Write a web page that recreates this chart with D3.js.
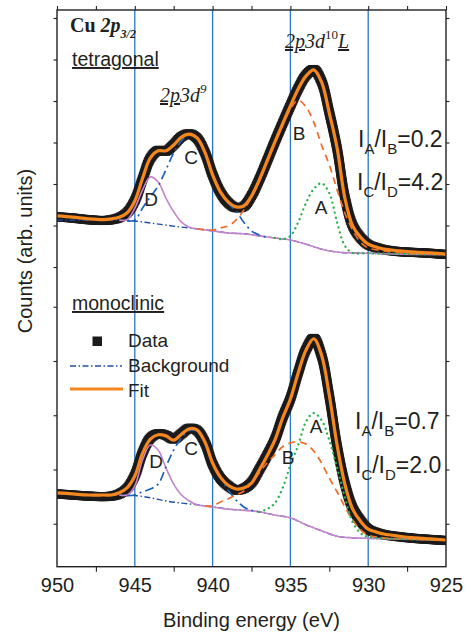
<!DOCTYPE html>
<html><head><meta charset="utf-8">
<script src="https://cdn.jsdelivr.net/npm/d3@7"></script>
<style>body{margin:0;background:#fff}svg{display:block}</style>
</head><body><svg id="c" width="471" height="634"></svg>
<script>
// ---------- data (binding energy in eV, counts in arbitrary units) ----------
const energies = [950,949,948,947,946.5,946,945.5,945,944.5,944,943.5,943,942.5,942,941.5,941,940.5,940,939.5,939,938.5,938,937.5,937,936.5,936,935.5,935,934.5,934,933.5,933,932.5,932,931.5,931,930.5,930,929.5,929,928,927,926,925];
// tetragonal (upper spectrum)
const dataTop = [2.21,2.18,2.14,2.12,2.14,2.19,2.31,2.60,3.12,3.62,3.81,3.79,3.95,4.14,4.21,4.10,3.76,3.22,2.80,2.55,2.43,2.46,2.72,3.11,3.56,4.02,4.46,4.89,5.30,5.62,5.76,5.47,4.72,3.85,2.68,2.00,1.71,1.54,1.47,1.42,1.37,1.35,1.33,1.30];
const fitTop  = [2.23,2.20,2.16,2.14,2.16,2.20,2.30,2.59,3.14,3.63,3.80,3.80,3.94,4.13,4.20,4.11,3.77,3.22,2.81,2.57,2.45,2.47,2.71,3.10,3.55,4.01,4.45,4.88,5.29,5.60,5.75,5.46,4.71,3.87,2.66,1.99,1.72,1.55,1.48,1.43,1.39,1.36,1.34,1.31];
// monoclinic (lower spectrum)
const dataBottom = [1.55,1.53,1.51,1.50,1.51,1.55,1.65,1.89,2.31,2.58,2.66,2.63,2.56,2.66,2.76,2.72,2.50,2.10,1.84,1.70,1.62,1.65,1.76,2.00,2.26,2.55,2.96,3.31,3.79,4.21,4.42,4.10,3.35,2.43,1.74,1.29,1.06,0.90,0.84,0.80,0.76,0.73,0.71,0.69];
const fitBottom  = [1.57,1.55,1.53,1.53,1.53,1.57,1.66,1.88,2.30,2.56,2.64,2.62,2.54,2.65,2.75,2.73,2.51,2.12,1.86,1.71,1.64,1.66,1.75,1.99,2.25,2.54,2.95,3.30,3.78,4.20,4.41,4.11,3.37,2.45,1.73,1.27,1.05,0.90,0.85,0.81,0.77,0.74,0.72,0.70];

// Shirley backgrounds
const bgEnergies = [950,948,946,945,944,943,942,941,940,939,938,937,936,935,934,933,932,931,930,928,925];
const bgTop    = [2.13,2.13,2.13,2.11,2.06,2.01,1.96,1.92,1.87,1.82,1.80,1.75,1.70,1.65,1.55,1.43,1.36,1.34,1.33,1.31,1.30];
const bgBottom = [1.55,1.54,1.53,1.52,1.48,1.42,1.38,1.35,1.31,1.27,1.25,1.22,1.16,1.11,0.98,0.87,0.77,0.74,0.73,0.72,0.70];

// fitted components (drawn on top of background)
const compDEnergies = [946,945.5,945,944.5,944,943.5,943,942.5,942,941.5,941,940,939,938,937,936,935,934,933,932,931,930,928,925];
const compDTop    = [2.13,2.14,2.42,2.86,3.17,3.05,2.66,2.33,2.08,1.96,1.92,1.87,1.82,1.80,1.75,1.70,1.65,1.55,1.43,1.36,1.34,1.33,1.31,1.30];
const compDBottom = [1.53,1.53,1.70,2.18,2.45,2.36,2.03,1.73,1.53,1.42,1.35,1.31,1.27,1.25,1.22,1.16,1.11,0.98,0.87,0.77,0.74,0.73,0.72,0.70];

const compCEnergiesTop = [945.5,945,944.5,944,943.5,943,942.5,942,941.5,941,940.5,940,939.5,939,938.5,938,937.5,937,936.5];
const compCTop = [2.11,2.13,2.42,2.69,2.95,3.34,3.75,4.04,4.18,4.11,3.77,3.24,2.81,2.54,2.35,2.08,1.87,1.77,1.72];
const compCEnergiesBottom = [945.5,945,944.5,944,943.5,943,942.5,942,941.5,941,940.5,940,939.5,939,938.5,938,937.5,937];
const compCBottom = [1.52,1.53,1.59,1.64,1.73,2.05,2.36,2.58,2.72,2.71,2.49,2.12,1.86,1.62,1.44,1.31,1.25,1.22];

const compBEnergiesTop = [941,940,939.5,939,938.5,938,937.5,937,936.5,936,935.5,935,934.5,934,933.5,933,932.5,932,931.5,931,930.5,930,929,928,925];
const compBTop = [1.92,1.89,1.94,1.99,2.13,2.37,2.69,3.07,3.53,3.99,4.42,4.81,5.02,4.86,4.49,3.94,3.46,2.86,2.30,1.89,1.60,1.46,1.39,1.34,1.30];
const compBEnergiesBottom = [940.5,940,939.5,939,938.5,938,937.5,937,936.5,936,935.5,935,934.5,934,933.5,933,932.5,932,931.5,931,930.5,930,929,928,925];
const compBBottom = [1.33,1.33,1.40,1.46,1.53,1.60,1.75,1.94,2.12,2.27,2.42,2.49,2.51,2.47,2.34,2.12,1.84,1.59,1.31,1.07,0.89,0.79,0.74,0.72,0.70];

const compAEnergiesTop = [936,935.5,935,934.5,934,933.5,933,932.5,932,931.5,931,930,925];
const compATop = [1.70,1.67,1.75,2.08,2.54,2.88,3.02,2.78,2.08,1.51,1.34,1.33,1.30];
const compAEnergiesBottom = [937,936.5,936,935.5,935,934.5,934,933.5,933,932.5,932,931.5,931,930.5,930,929,925];
const compABottom = [1.22,1.27,1.38,1.66,2.08,2.45,2.88,3.04,2.91,2.54,2.03,1.49,1.03,0.83,0.76,0.73,0.70];

const majorTicks = [950,945,940,935,930,925];
const minorTicks = [947.5,942.5,937.5,932.5,927.5];
const guideEnergies = [945,940,935,930];
const ticksTop = [1,2,3,4,5,6,7];
const ticksBottom = [1,2,3,4,5];

// ---------- drawing ----------
const svg = d3.select('#c');
const L = 57, R = 446, T = 10, B = 566.7;
const x = d3.scaleLinear().domain([950,925]).range([L,R]);
const yTop = d3.scaleLinear().domain([0,7]).range([308.5,18]);
const yBot = d3.scaleLinear().domain([0,5]).range([578,306.75]);
const curve = d3.curveCatmullRom.alpha(0.5);
const pathFor = (E, V, y) => d3.line().x((d,i)=>x(E[i])).y(d=>y(d)).curve(curve)(V);

const TXT = '#231f20';
const SANS = '"Liberation Sans", Arial, Helvetica, sans-serif';
const SERIF = '"Liberation Serif", "Times New Roman", serif';

svg.append('defs').append('clipPath').attr('id','clip')
  .append('rect').attr('x',L).attr('y',T).attr('width',R-L).attr('height',B-T);

const plot = svg.append('g').attr('clip-path','url(#clip)');

// guide lines
plot.selectAll('line.guide').data(guideEnergies).join('line')
  .attr('x1',d=>x(d)).attr('x2',d=>x(d)).attr('y1',T).attr('y2',B)
  .attr('stroke','#2a76c6').attr('stroke-width',1.3);

// data as dense squares along the measured curve
function drawData(V, y) {
  const p = plot.append('path').attr('d', pathFor(energies, V, y)).attr('fill','none').attr('stroke','none');
  const node = p.node(); const len = node.getTotalLength();
  const pts = d3.range(0, len, 1.6).map(l => node.getPointAtLength(l));
  const s = 9;
  plot.append('g').selectAll('rect').data(pts).join('rect')
    .attr('x', d=>d.x - s/2).attr('y', d=>d.y - s/2).attr('width', s).attr('height', s)
    .attr('fill', '#1c1a1a');
}
drawData(dataTop, yTop);
drawData(dataBottom, yBot);

const styles = {
  bg: {stroke:'#1f4fa6', w:1.4, dash:'6,2.5,1.5,2.5'},
  D:  {stroke:'#c584cc', w:1.6, dash:null},
  C:  {stroke:'#1b63b8', w:1.7, dash:'9,4,2,4'},
  B:  {stroke:'#f26b2a', w:1.7, dash:'7,5'},
  A:  {stroke:'#2bb24c', w:2.3, dash:'0.1,5', cap:'round'},
  fit:{stroke:'#f5871f', w:3.2, dash:null}
};
function drawLine(E, V, y, st) {
  const p = plot.append('path').attr('d', pathFor(E, V, y)).attr('fill','none')
    .attr('stroke', st.stroke).attr('stroke-width', st.w);
  if (st.dash) p.attr('stroke-dasharray', st.dash);
  if (st.cap) p.attr('stroke-linecap', st.cap);
}
// upper
drawLine(bgEnergies, bgTop, yTop, styles.bg);
drawLine(compDEnergies, compDTop, yTop, styles.D);
drawLine(compCEnergiesTop, compCTop, yTop, styles.C);
drawLine(compBEnergiesTop, compBTop, yTop, styles.B);
drawLine(compAEnergiesTop, compATop, yTop, styles.A);
drawLine(energies, fitTop, yTop, styles.fit);
// lower
drawLine(bgEnergies, bgBottom, yBot, styles.bg);
drawLine(compDEnergies, compDBottom, yBot, styles.D);
drawLine(compCEnergiesBottom, compCBottom, yBot, styles.C);
drawLine(compBEnergiesBottom, compBBottom, yBot, styles.B);
drawLine(compAEnergiesBottom, compABottom, yBot, styles.A);
drawLine(energies, fitBottom, yBot, styles.fit);

// axes
function styleAxis(g){ g.select('.domain').remove(); g.selectAll('.tick line').attr('stroke','#222').attr('stroke-width',1.1); }
svg.append('g').attr('transform',`translate(0,${T})`)
  .call(d3.axisTop(x).tickValues(majorTicks.concat(minorTicks)).tickSize(4).tickFormat('')).call(styleAxis);
svg.append('g').attr('transform',`translate(0,${B})`)
  .call(d3.axisBottom(x).tickValues(minorTicks).tickSize(5).tickFormat('')).call(styleAxis);
const xl = svg.append('g').attr('transform',`translate(0,${B})`)
  .call(d3.axisBottom(x).tickValues(majorTicks).tickSize(0).tickPadding(11).tickFormat(d3.format('d'))).call(styleAxis);
xl.selectAll('text').attr('font-size',20).attr('font-family',SANS).attr('fill',TXT);
[[d3.axisLeft, L],[d3.axisRight, R]].forEach(([ax, pos]) => {
  svg.append('g').attr('transform',`translate(${pos},0)`).call(ax(yTop).tickValues(ticksTop).tickSize(3.5).tickFormat('')).call(styleAxis);
  svg.append('g').attr('transform',`translate(${pos},0)`).call(ax(yBot).tickValues(ticksBottom).tickSize(3.5).tickFormat('')).call(styleAxis);
});
svg.append('rect').attr('x',L).attr('y',T).attr('width',R-L).attr('height',B-T)
  .attr('fill','none').attr('stroke','#222').attr('stroke-width',1.4);

// axis titles
svg.append('text').attr('x',(L+R)/2).attr('y',627).attr('text-anchor','middle')
  .attr('font-family',SANS).attr('font-size',20).attr('fill',TXT).text('Binding energy (eV)');
svg.append('text').attr('transform','translate(32,251) rotate(-90)').attr('text-anchor','middle')
  .attr('font-family',SANS).attr('font-size',20).attr('fill',TXT).text('Counts (arb. units)');

// annotations
const title = svg.append('text').attr('x',70).attr('y',32).attr('font-family',SERIF)
  .attr('font-size',20).attr('font-weight','bold').attr('fill',TXT);
title.append('tspan').text('Cu ');
title.append('tspan').attr('font-style','italic').text('2p');
title.append('tspan').attr('font-style','italic').attr('font-size',12).attr('dy',6).text('3/2');

function sansLabel(txt, px, py, size, underline) {
  const t = svg.append('text').attr('x',px).attr('y',py).attr('font-family',SANS)
    .attr('font-size',size).attr('fill',TXT).text(txt);
  if (underline) t.attr('text-decoration','underline');
  return t;
}
sansLabel('tetragonal', 72, 66, 19.5, true);
sansLabel('monoclinic', 72, 310, 19.5, true);

// configuration labels
const c9 = svg.append('text').attr('x',160).attr('y',102).attr('font-family',SERIF).attr('font-size',20)
  .attr('font-style','italic').attr('fill',TXT);
c9.append('tspan').attr('text-decoration','underline').text('2p');
c9.append('tspan').text('3d');
c9.append('tspan').attr('font-size',13).attr('dy',-9).text('9');
const c10 = svg.append('text').attr('x',285).attr('y',48).attr('font-family',SERIF).attr('font-size',20)
  .attr('font-style','italic').attr('fill',TXT);
c10.append('tspan').attr('text-decoration','underline').text('2p');
c10.append('tspan').text('3d');
c10.append('tspan').attr('font-size',13).attr('dy',-9).attr('font-style','normal').text('10');
c10.append('tspan').attr('dy',9).attr('text-decoration','underline').text('L');

// peak letters
[['B',299,140],['C',191,164],['D',151,206],['A',321,214],
 ['A',316,433],['B',288,464],['C',191,455],['D',156,468]].forEach(([t,px,py]) => {
  svg.append('text').attr('x',px).attr('y',py).attr('text-anchor','middle').attr('font-family',SANS)
    .attr('font-size',19).attr('fill',TXT).text(t);
});

// intensity ratios
function ratio(a, b, val, px, py) {
  const t = svg.append('text').attr('x',px).attr('y',py).attr('font-family',SANS).attr('font-size',23).attr('fill',TXT);
  t.append('tspan').text('I');
  t.append('tspan').attr('font-size',15).attr('dy',7).text(a);
  t.append('tspan').attr('dy',-7).text('/I');
  t.append('tspan').attr('font-size',15).attr('dy',7).text(b);
  t.append('tspan').attr('dy',-7).text('=' + val);
}
ratio('A','B','0.2',358,147);
ratio('C','D','4.2',357,190);
ratio('A','B','0.7',355,429);
ratio('C','D','2.0',355,473);

// legend
svg.append('rect').attr('x',92.5).attr('y',336.5).attr('width',9.5).attr('height',9.5).attr('fill','#1c1a1a');
svg.append('line').attr('x1',70).attr('x2',122).attr('y1',366).attr('y2',366)
  .attr('stroke',styles.bg.stroke).attr('stroke-width',1.5).attr('stroke-dasharray','6,2.5,1.5,2.5');
svg.append('line').attr('x1',70).attr('x2',123).attr('y1',389).attr('y2',389)
  .attr('stroke',styles.fit.stroke).attr('stroke-width',3.2);
sansLabel('Data',128,347,19);
sansLabel('Background',128,372,19);
sansLabel('Fit',128,397,19);
</script></body></html>
